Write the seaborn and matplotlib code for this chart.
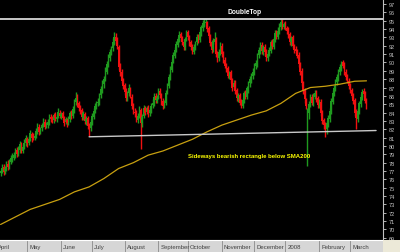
import numpy as np
import pandas as pd
import matplotlib
matplotlib.use("Agg")
import matplotlib.pyplot as plt
from matplotlib.patches import Rectangle
import seaborn as sns

# ---------------- data ----------------
close = [
    77.0, 77.4, 76.9, 77.3, 77.8, 77.5, 78.0, 78.5, 78.7, 78.9,
    79.4, 79.0, 79.6, 80.2, 79.5, 79.9, 80.4, 80.9, 80.3, 80.8,
    81.5, 80.9, 81.0, 81.2, 81.8, 82.4, 81.7, 82.0, 82.5, 83.0,
    82.3, 82.6, 82.9, 83.4, 83.2, 83.0, 83.7, 83.3, 83.5, 84.1,
    83.6, 83.8, 83.4, 82.8, 83.2, 82.7, 83.3, 83.9, 83.5, 84.4,
    85.2, 85.8, 85.0, 84.6, 84.2, 83.5, 83.9, 83.0, 83.2, 82.4,
    82.0, 82.9, 83.6, 84.2, 84.8, 85.0, 85.3, 86.0, 86.8, 87.5,
    88.0, 89.0, 89.8, 90.6, 91.2, 91.6, 92.5, 93.0, 92.6, 92.0,
    89.5, 88.8, 87.8, 87.2, 86.5, 85.8, 86.2, 86.9, 86.0, 84.8,
    84.2, 83.9, 83.2, 83.6, 84.4, 82.8, 83.5, 84.6, 84.0, 84.5,
    83.8, 84.3, 84.8, 85.2, 85.9, 85.5, 85.8, 86.5, 86.1, 85.3,
    84.8, 85.1, 86.4, 87.3, 88.2, 89.2, 90.1, 90.9, 91.5, 92.2,
    92.8, 93.3, 92.9, 92.4, 91.9, 92.8, 93.5, 93.0, 92.3, 91.8,
    91.4, 91.9, 92.3, 93.0, 92.6, 93.6, 94.2, 94.7, 94.8, 94.9,
    94.0, 93.2, 92.3, 91.5, 92.6, 92.8, 91.0, 90.4, 91.3, 92.1,
    91.0, 90.2, 89.6, 89.2, 88.4, 88.7, 87.9, 87.0, 87.5, 86.6,
    85.8, 86.0, 85.2, 84.9, 85.5, 86.3, 86.0, 86.9, 87.4, 88.0,
    88.3, 88.9, 89.5, 89.9, 90.8, 91.5, 92.0, 91.4, 91.8, 91.2,
    90.6, 91.0, 91.5, 92.4, 92.0, 92.8, 93.5, 93.2, 93.8, 94.3,
    94.9, 94.4, 94.6, 94.2, 93.8, 93.3, 92.5, 92.9, 92.0, 91.5,
    91.4, 90.8, 89.8, 88.9, 87.6, 86.6, 85.6, 84.8, 84.0, 85.0,
    85.8, 85.2, 86.0, 86.3, 85.6, 84.9, 85.2, 83.9, 83.0, 82.5,
    82.1, 82.7, 83.3, 84.2, 85.4, 86.3, 87.0, 87.6, 88.2, 88.8,
    89.4, 90.0, 89.6, 88.8, 88.2, 87.9, 87.2, 86.6, 86.0, 85.4,
    84.0, 83.3, 84.2, 85.1, 85.9, 86.5, 86.2, 85.4, 84.7,
]
open_ = [
    76.8, 77.1, 77.5, 77.0, 77.3, 77.9, 77.6, 78.1, 78.4, 78.6,
    78.9, 79.5, 79.1, 79.5, 80.1, 79.4, 79.9, 80.3, 80.8, 80.4,
    80.9, 81.4, 81.1, 81.0, 81.3, 81.7, 82.3, 81.8, 82.1, 82.6,
    82.9, 82.4, 82.5, 82.8, 83.5, 83.3, 83.1, 83.8, 83.2, 83.6,
    84.0, 83.5, 83.9, 83.3, 82.9, 83.1, 82.8, 83.2, 84.0, 83.6,
    84.3, 85.3, 85.9, 85.1, 84.5, 84.3, 83.4, 83.8, 82.9, 83.3,
    82.5, 82.1, 82.8, 83.5, 84.3, 84.7, 85.1, 85.2, 86.1, 86.7,
    87.4, 88.1, 88.9, 89.9, 90.5, 91.3, 91.7, 92.4, 93.1, 92.7,
    91.9, 89.6, 88.9, 87.7, 87.3, 86.6, 85.7, 86.3, 86.8, 85.9,
    84.9, 84.1, 84.0, 83.1, 83.7, 84.3, 82.7, 83.6, 84.5, 84.1,
    84.6, 83.9, 84.2, 84.9, 85.1, 86.0, 85.4, 85.9, 86.6, 86.0,
    85.4, 84.9, 85.2, 86.5, 87.2, 88.3, 89.1, 90.2, 90.8, 91.6,
    92.1, 92.9, 93.4, 92.8, 92.5, 91.8, 92.9, 93.6, 92.9, 92.4,
    91.9, 91.3, 91.8, 92.4, 93.1, 92.7, 93.5, 94.1, 94.6, 94.7,
    94.8, 94.1, 93.1, 92.4, 91.6, 92.5, 92.7, 91.1, 90.5, 91.2,
    92.0, 91.1, 90.3, 89.5, 89.3, 88.3, 88.8, 87.8, 87.1, 87.6,
    86.7, 85.7, 86.1, 85.3, 84.8, 85.4, 86.4, 85.9, 86.8, 87.5,
    87.9, 88.4, 88.8, 89.6, 89.8, 90.9, 91.4, 92.1, 91.3, 91.9,
    91.3, 90.5, 91.1, 91.4, 92.5, 91.9, 92.7, 93.6, 93.1, 93.7,
    94.2, 95.0, 94.3, 94.7, 94.1, 93.9, 93.4, 92.4, 93.0, 91.9,
    91.6, 91.3, 90.9, 89.7, 89.0, 87.5, 86.7, 85.5, 83.4, 83.9,
    85.1, 85.9, 85.1, 85.9, 86.4, 85.7, 84.8, 85.3, 84.0, 83.1,
    82.6, 82.0, 82.6, 83.2, 84.1, 85.3, 86.4, 86.9, 87.7, 88.1,
    88.9, 89.3, 90.1, 89.7, 88.9, 88.3, 87.8, 87.3, 86.7, 86.1,
    85.5, 84.1, 83.2, 84.1, 85.0, 85.8, 86.6, 86.3, 85.5,
]
high = [
    77.3, 77.8, 77.9, 77.6, 78.2, 78.3, 78.4, 78.9, 79.1, 79.3,
    79.8, 79.9, 80.0, 80.6, 80.5, 80.2, 80.8, 81.3, 81.1, 81.2,
    81.9, 81.7, 81.5, 81.6, 82.1, 82.8, 82.6, 82.3, 82.8, 83.4,
    83.2, 82.9, 83.2, 83.8, 83.8, 83.6, 84.0, 84.1, 83.8, 84.5,
    84.3, 84.1, 84.2, 83.6, 83.5, 83.4, 83.6, 84.2, 84.3, 84.8,
    85.6, 86.5, 86.2, 85.4, 84.9, 84.6, 84.2, 84.1, 83.6, 83.6,
    82.8, 83.2, 83.9, 84.5, 85.1, 85.4, 85.7, 86.3, 87.2, 87.9,
    88.4, 89.4, 90.2, 91.0, 91.6, 92.0, 92.9, 93.6, 93.5, 93.0,
    92.1, 89.9, 89.2, 88.1, 87.6, 86.9, 86.6, 87.4, 87.1, 86.2,
    85.2, 84.5, 84.3, 83.9, 84.8, 84.6, 83.8, 84.9, 84.8, 84.8,
    84.9, 84.6, 85.1, 85.6, 86.3, 86.3, 86.1, 86.9, 86.9, 86.3,
    85.7, 85.5, 86.7, 87.6, 88.6, 89.6, 90.4, 91.3, 91.9, 92.6,
    93.1, 93.8, 93.7, 93.2, 92.8, 93.1, 93.9, 93.9, 93.3, 92.7,
    92.2, 92.2, 92.6, 93.4, 93.4, 93.9, 94.5, 95.1, 95.2, 95.2,
    95.0, 94.4, 93.4, 92.7, 92.9, 93.6, 93.0, 91.4, 91.6, 92.4,
    92.3, 91.4, 90.6, 89.9, 89.6, 89.0, 89.1, 88.1, 87.9, 87.9,
    87.0, 86.4, 86.4, 85.6, 85.8, 86.6, 86.7, 87.2, 87.8, 88.4,
    88.7, 89.3, 89.9, 90.3, 91.1, 91.9, 92.4, 92.4, 92.1, 92.2,
    91.6, 91.4, 91.8, 92.7, 92.8, 93.1, 93.9, 93.9, 94.2, 94.7,
    95.2, 95.2, 94.9, 95.0, 94.4, 94.2, 93.7, 93.2, 93.3, 92.2,
    92.0, 91.6, 91.2, 90.0, 89.3, 87.8, 87.0, 85.8, 84.6, 85.4,
    86.2, 86.2, 86.3, 86.7, 86.7, 86.0, 85.6, 85.6, 84.3, 83.4,
    82.9, 83.0, 83.7, 84.5, 85.7, 86.7, 87.3, 88.0, 88.6, 89.2,
    89.8, 90.2, 90.3, 90.0, 89.2, 88.6, 88.1, 87.6, 87.0, 86.4,
    85.8, 84.4, 84.5, 85.4, 86.2, 86.8, 87.0, 86.6, 85.8,
]
low = [
    76.4, 76.8, 76.5, 76.7, 77.0, 77.1, 77.3, 77.8, 78.1, 78.3,
    78.6, 78.7, 78.8, 79.2, 79.1, 79.1, 79.6, 80.0, 79.9, 80.1,
    80.6, 80.5, 80.7, 80.7, 81.0, 81.4, 81.3, 81.4, 81.8, 82.3,
    82.0, 82.1, 82.2, 82.5, 82.9, 82.7, 82.8, 83.0, 82.9, 83.3,
    83.3, 83.2, 83.1, 82.4, 82.6, 82.3, 82.5, 82.9, 83.2, 83.4,
    84.0, 84.9, 84.7, 84.2, 83.8, 83.1, 83.1, 82.6, 82.5, 82.0,
    81.2, 81.8, 82.5, 83.2, 84.0, 84.4, 84.8, 84.9, 85.8, 86.4,
    87.0, 87.8, 88.6, 89.5, 90.2, 90.9, 91.4, 92.1, 92.2, 91.6,
    89.1, 88.4, 87.5, 86.8, 86.1, 85.4, 85.4, 86.0, 85.7, 84.4,
    83.8, 83.5, 82.9, 82.8, 83.4, 79.6, 82.3, 83.3, 83.7, 83.8,
    83.5, 83.6, 83.9, 84.6, 84.8, 85.2, 85.1, 85.6, 85.8, 84.9,
    84.4, 84.5, 84.9, 86.2, 86.9, 87.9, 88.8, 89.9, 90.5, 91.2,
    91.8, 92.5, 92.6, 92.1, 91.5, 91.5, 92.6, 92.7, 92.0, 91.5,
    91.0, 91.0, 91.5, 92.1, 92.3, 92.4, 93.2, 93.8, 94.2, 94.4,
    93.7, 92.9, 92.0, 91.1, 91.3, 92.2, 90.6, 90.0, 90.2, 90.9,
    90.7, 89.9, 89.3, 88.8, 88.1, 88.0, 87.6, 86.6, 86.8, 86.2,
    85.4, 85.3, 84.9, 84.5, 84.5, 85.1, 85.6, 85.6, 86.4, 87.1,
    87.5, 88.0, 88.5, 89.2, 89.5, 90.5, 91.0, 91.0, 90.9, 90.8,
    90.2, 90.2, 90.8, 91.1, 91.6, 91.6, 92.4, 92.8, 92.8, 93.4,
    93.9, 94.0, 94.0, 93.9, 93.4, 92.9, 92.1, 92.0, 91.7, 91.1,
    91.0, 90.5, 89.4, 88.5, 87.2, 86.2, 85.2, 84.4, 77.6, 83.2,
    84.7, 84.9, 84.8, 85.6, 85.3, 84.6, 84.5, 83.6, 82.6, 82.0,
    81.1, 81.4, 82.3, 82.9, 83.8, 85.0, 86.0, 86.6, 87.3, 87.8,
    88.5, 89.0, 89.3, 88.5, 87.9, 87.6, 86.8, 86.3, 85.7, 85.0,
    83.6, 82.0, 82.9, 83.8, 84.7, 85.5, 85.9, 85.1, 84.4,
]
sma_day = [0, 10, 20, 30, 40, 50, 60, 70, 80, 90, 100, 110, 120,
           130, 140, 150, 160, 170, 180, 190, 200, 210, 220, 230, 240, 248]
sma_val = [70.6, 71.5, 72.4, 73.0, 73.6, 74.5, 75.1, 76.1, 77.3, 78.0,
           78.9, 79.4, 80.1, 80.8, 81.7, 82.5, 83.1, 83.7, 84.2, 85.1,
           86.3, 87.0, 87.15, 87.4, 87.75, 87.8]
month_labels = ["April", "May", "June", "July", "August", "September",
                "October", "November", "December", "2008", "February", "March"]
y_ticks = list(range(69, 98))
resistance_level = 95.15
support_start = (60, 81.1)
support_end = (254.5, 81.85)

# ---------------- style ----------------
sns.set_theme(style="dark")
plt.rcParams["font.family"] = ["Liberation Sans", "DejaVu Sans"]

W, H = 400, 253
fig = plt.figure(figsize=(W / 100, H / 100), dpi=100, facecolor="black")
ax = fig.add_axes([0, 12 / H, 383 / W, 241 / H])
ax.set_facecolor("black")
strip = fig.add_axes([0, 0, 383 / W, 12 / H], sharex=ax)
fig.patches.append(Rectangle((383 / W, 0), 17 / W, 12 / H,
                             transform=fig.transFigure, facecolor="#ece9d8",
                             edgecolor="none", zorder=0))

df = pd.DataFrame({"open": open_, "high": high, "low": low, "close": close})
df["day"] = np.arange(len(df))
up = df["close"] >= df["open"]
cols = np.where(up, "#1f9a1f", "#f01010")

ax.vlines(df["day"], df["low"], df["high"], colors=cols, lw=1.0, zorder=2)
body_lo = np.minimum(df["open"], df["close"])
body_h = np.maximum(np.abs(df["close"] - df["open"]), 0.08)
ax.bar(df["day"], body_h, bottom=body_lo, width=1.0, color=cols,
       linewidth=0, zorder=3)

sns.lineplot(x=sma_day, y=sma_val, ax=ax, color="#c8a010", lw=0.9, zorder=4)

ax.axhline(resistance_level, color="#d8d8d8", lw=1.3, zorder=5)
ax.plot([support_start[0], support_end[0]], [support_start[1], support_end[1]],
        color="#c8c8c8", lw=1.0, zorder=5)

ax.text(165.3, 96.05, "DoubleTop", color="white", fontsize=4.8,
        fontweight="bold", ha="center", va="center")
ax.text(126.8, 78.9, "Sideways bearish rectangle below SMA200",
        color="#ffff00", fontsize=4.3, fontweight="bold", ha="left", va="center")

ax.set_xlim(-0.4, 259.2)
ax.set_ylim(68.74, 97.6)
ax.yaxis.tick_right()
ax.set_yticks(y_ticks)
ax.set_yticklabels([str(v) for v in y_ticks])
ax.tick_params(axis="y", colors="#d0d0d0", labelsize=4, length=2.5, width=0.6,
               pad=1.5, direction="out", labelcolor="#c8c8c8")
ax.tick_params(axis="x", bottom=False, labelbottom=False)
for s in ["top", "left", "bottom"]:
    ax.spines[s].set_visible(False)
ax.spines["right"].set_color("#c0c0c0")
ax.spines["right"].set_linewidth(0.8)
ax.set_xlabel("")
ax.set_ylabel("")
ax.grid(False)

# month strip
dates = pd.bdate_range("2007-04-02", periods=len(df) + 10)
didx = np.arange(len(dates)) - 3
month_pos = [didx[k] for k in range(len(dates))
             if k == 0 or dates[k].month != dates[k - 1].month][:len(month_labels)]
strip.set_facecolor("#d6d6d6")
strip.set_ylim(0, 1)
strip.set_yticks([])
strip.tick_params(axis="x", bottom=False, labelbottom=False)
for s in ["left", "right", "bottom"]:
    strip.spines[s].set_visible(False)
strip.spines["top"].set_color("white")
strip.spines["top"].set_linewidth(0.8)
for pos, lab in zip(month_pos, month_labels):
    strip.axvline(pos, color="#8a8a8a", lw=0.6)
    strip.annotate(lab, xy=(pos, 0.45), xytext=(1.5, 0), textcoords="offset points",
                   fontsize=4.3, color="#404040", ha="left", va="center",
                   annotation_clip=False, clip_on=True)
strip.grid(False)

fig.savefig("out.png", dpi=100, facecolor="black")
